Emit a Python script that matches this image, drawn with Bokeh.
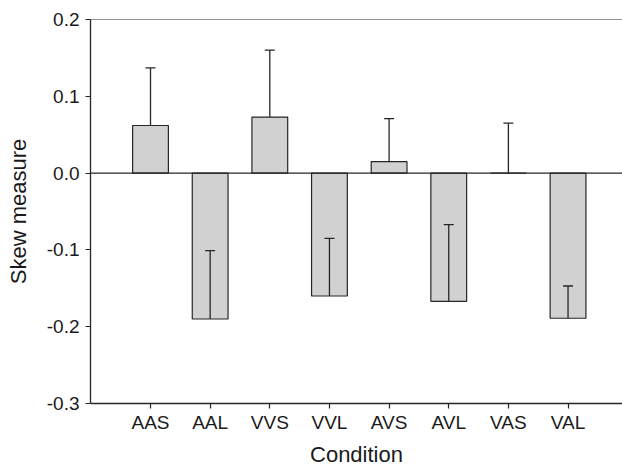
import numpy as np
from bokeh.plotting import figure
from bokeh.models import (ColumnDataSource, Range1d, FixedTicker, PrintfTickFormatter,
                          Span, Whisker, TeeHead)
from bokeh.embed import file_html
from bokeh.resources import INLINE

conditions = ["AAS", "AAL", "VVS", "VVL", "AVS", "AVL", "VAS", "VAL"]
skew = [0.062, -0.190, 0.073, -0.160, 0.015, -0.167, 0.0, -0.189]
sem = [0.075, 0.089, 0.087, 0.075, 0.056, 0.100, 0.065, 0.042]
y_ticks = [-0.3, -0.2, -0.1, 0.0, 0.1, 0.2]

xs = list(range(len(conditions)))
upper = list(np.array(skew) + np.array(sem))
src = ColumnDataSource(dict(x=xs, skew=skew, upper=upper, zero=[0.0] * len(xs)))

FONT = "Liberation Sans"
DARK = "#262626"

p = figure(width=622, height=469, output_backend="svg", toolbar_location=None,
           x_range=Range1d(-1.006, 7.913), y_range=Range1d(-0.3, 0.2),
           min_border_left=90, min_border_right=0, min_border_top=19, min_border_bottom=64)
p.outline_line_color = None
p.grid.visible = False
p.background_fill_color = "white"
p.border_fill_color = "white"

p.vbar(x="x", top="skew", bottom="zero", width=0.6, source=src,
       fill_color="#d1d1d1", line_color=DARK, line_width=1.2)

w = Whisker(source=src, base="x", lower="skew", upper="upper", level="overlay",
            line_color=DARK, line_width=1.3,
            upper_head=TeeHead(size=10, line_color=DARK, line_width=1.3),
            lower_head=None)
p.add_layout(w)

p.add_layout(Span(location=0.0, dimension="width", line_color=DARK, line_width=1.2))
p.add_layout(Span(location=0.2, dimension="width", line_color=DARK, line_width=1.2))

p.xaxis.ticker = FixedTicker(ticks=xs)
p.xaxis.major_label_overrides = {i: c for i, c in enumerate(conditions)}
p.yaxis.ticker = FixedTicker(ticks=y_ticks)
p.yaxis.formatter = PrintfTickFormatter(format="%.1f")

p.xaxis.axis_label = "Condition"
p.yaxis.axis_label = "Skew measure"

for ax in (p.xaxis, p.yaxis):
    ax.axis_line_color = DARK
    ax.axis_line_width = 1.3
    ax.major_tick_line_color = DARK
    ax.major_tick_line_width = 1.2
    ax.major_tick_out = 5
    ax.major_tick_in = 0
    ax.minor_tick_line_color = None
    ax.major_label_text_font = FONT
    ax.major_label_text_font_size = "19px"
    ax.major_label_text_color = "#1a1a1a"
    ax.axis_label_text_font = FONT
    ax.axis_label_text_font_size = "22px"
    ax.axis_label_text_font_style = "normal"
    ax.axis_label_text_color = "#1a1a1a"

p.xaxis.major_label_standoff = 3
p.xaxis.axis_label_standoff = 6
p.yaxis.major_label_standoff = 6
p.yaxis.axis_label_standoff = 13

open("out.html", "w").write(file_html(p, INLINE))
